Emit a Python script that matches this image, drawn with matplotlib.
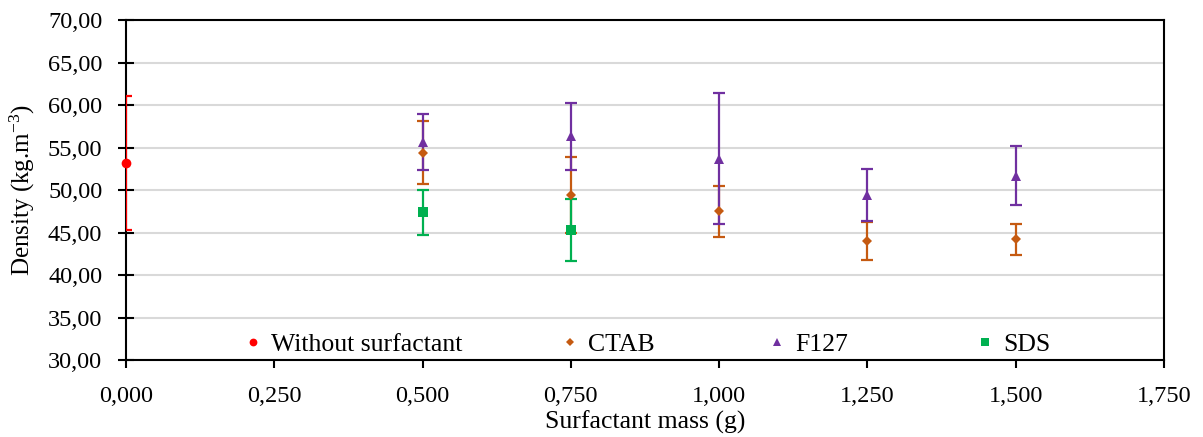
import matplotlib
matplotlib.use("Agg")
import matplotlib.pyplot as plt
import matplotlib.ticker as mticker
from matplotlib.legend import Legend
from matplotlib.lines import Line2D

plt.rcParams["font.family"] = ["Liberation Serif", "DejaVu Serif"]
plt.rcParams["mathtext.fontset"] = "custom"
plt.rcParams["mathtext.rm"] = "Liberation Serif"
plt.rcParams["mathtext.it"] = "Liberation Serif:italic"

# data
none_mass = [0.0]
none_density = [53.2]
none_err = [7.9]

ctab_mass = [0.5, 0.75, 1.0, 1.25, 1.5]
ctab_density = [54.4, 49.4, 47.5, 44.0, 44.2]
ctab_err = [3.7, 4.45, 3.0, 2.25, 1.85]

f127_mass = [0.5, 0.75, 1.0, 1.25, 1.5]
f127_density = [55.6, 56.3, 53.7, 49.4, 51.7]
f127_err = [3.3, 3.9, 7.7, 3.05, 3.5]

sds_mass = [0.5, 0.75]
sds_density = [47.4, 45.3]
sds_err = [2.65, 3.65]

series = [
    ("Without surfactant", none_mass, none_density, none_err, "#FF0000", "o", 7),
    ("CTAB", ctab_mass, ctab_density, ctab_err, "#C55A11", "D", 5.5),
    ("F127", f127_mass, f127_density, f127_err, "#7030A0", "^", 7.5),
    ("SDS", sds_mass, sds_density, sds_err, "#00B050", "s", 7),
]
# legend entry anchors (axes fraction), Excel-like uneven spacing
legend_x = [0.115, 0.420, 0.620, 0.820]

fig = plt.figure(figsize=(12.03, 4.37), dpi=100)
ax = fig.add_axes([0.1047, 0.1762, 0.8629, 0.778])

handles = []
for name, xs, ys, es, color, marker, ms in series:
    ax.errorbar(xs, ys, yerr=es, fmt="none", ecolor=color, elinewidth=1.6,
                capsize=4.5, capthick=1.6, zorder=3)
    ax.plot(xs, ys, linestyle="none", marker=marker, color=color, markersize=ms,
            markeredgewidth=0, zorder=4, clip_on=False)
    handles.append(Line2D([], [], linestyle="none", marker=marker, color=color,
                          markersize=ms * 0.8, markeredgewidth=0, label=name))

ax.set_xlim(0, 1.75)
ax.set_ylim(30, 70)
ax.xaxis.set_major_locator(mticker.MultipleLocator(0.25))
ax.yaxis.set_major_locator(mticker.MultipleLocator(5))
ax.xaxis.set_major_formatter(mticker.FuncFormatter(lambda v, p: f"{v:.3f}".replace(".", ",")))
ax.yaxis.set_major_formatter(mticker.FuncFormatter(lambda v, p: f"{v:.2f}".replace(".", ",")))

ax.grid(True, axis="y", color="#D9D9D9", linewidth=1.5, zorder=0)
ax.set_axisbelow(True)
for s in ax.spines.values():
    s.set_color("black")
    s.set_linewidth(1.5)

ax.tick_params(axis="y", direction="inout", length=12, width=1.5, labelsize=17.5, pad=11)
ax.tick_params(axis="x", direction="out", length=6, width=1.5, labelsize=17.5, pad=13)

ax.set_xlabel("Surfactant mass (g)", fontsize=18.5, labelpad=2)
ax.set_ylabel("Density (kg.m$^{-3}$)", fontsize=18, labelpad=8)

for h, lx in zip(handles, legend_x):
    leg = Legend(ax, [h], [h.get_label()], loc="center left", bbox_to_anchor=(lx, 0.045),
                 frameon=False, fontsize=18.5, handlelength=0.6, handletextpad=0.4,
                 borderpad=0, borderaxespad=0)
    ax.add_artist(leg)

fig.savefig("out.png", dpi=100)
